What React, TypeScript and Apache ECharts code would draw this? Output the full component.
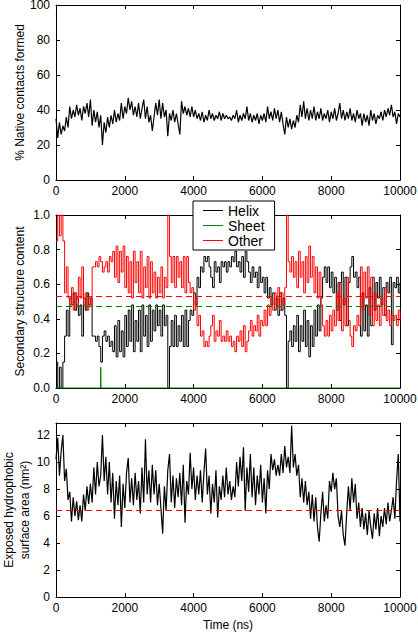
import React, { useEffect, useRef } from "react";
import * as echarts from "echarts";

const timeMax = 10000;
const xTickInterval = 2000;

// % native contacts formed, sampled every 50 ns
const nativeContacts = [
  35, 24, 33, 26, 31, 28, 36, 30, 42, 35, 40, 36, 43, 37, 41, 34, 42, 38, 44, 36,
  46, 31, 40, 33, 39, 30, 37, 20, 33, 27, 36, 30, 37, 32, 40, 33, 38, 34, 44, 35,
  42, 38, 47, 40, 45, 37, 42, 36, 44, 35, 41, 46, 35, 42, 33, 37, 28, 36, 44, 37,
  46, 35, 44, 36, 40, 25, 38, 34, 40, 33, 38, 32, 26, 45, 38, 42, 37, 41, 36, 42,
  36, 40, 35, 38, 34, 39, 33, 37, 34, 40, 35, 38, 34, 37, 35, 39, 34, 38, 35, 37,
  35, 36, 34, 37, 35, 40, 33, 37, 34, 38, 35, 42, 34, 38, 33, 37, 34, 38, 32, 37,
  34, 38, 33, 42, 35, 39, 34, 41, 35, 40, 33, 39, 32, 26, 36, 30, 35, 29, 34, 30,
  37, 33, 43, 36, 45, 35, 41, 34, 40, 35, 42, 34, 39, 35, 41, 34, 38, 35, 40, 33,
  39, 35, 41, 34, 38, 44, 35, 40, 34, 39, 35, 41, 34, 38, 33, 40, 35, 38, 31, 38,
  33, 37, 31, 40, 34, 38, 32, 37, 35, 39, 34, 40, 36, 41, 37, 43, 36, 39, 32, 38,
  36,
];

// Secondary structure fractions, sampled every 50 ns
const helix = [
  0.15, 0.0, 0.12, 0.0, 0.15, 0.30, 0.45, 0.30, 0.52, 0.48, 0.55, 0.45, 0.52, 0.42, 0.48, 0.30, 0.52, 0.45, 0.55, 0.48,
  0.52, 0.30, 0.30, 0.27, 0.30, 0.24, 0.15, 0.30, 0.33, 0.27, 0.30, 0.24, 0.27, 0.21, 0.36, 0.18, 0.39, 0.21, 0.33, 0.18,
  0.42, 0.24, 0.45, 0.27, 0.48, 0.21, 0.39, 0.27, 0.45, 0.21, 0.48, 0.30, 0.42, 0.24, 0.48, 0.27, 0.45, 0.33, 0.48, 0.36,
  0.45, 0.30, 0.48, 0.36, 0.42, 0.0, 0.24, 0.39, 0.24, 0.42, 0.24, 0.36, 0.27, 0.42, 0.24, 0.45, 0.24, 0.39, 0.45, 0.42,
  0.55, 0.48, 0.64, 0.58, 0.70, 0.67, 0.76, 0.73, 0.76, 0.70, 0.64, 0.58, 0.73, 0.67, 0.70, 0.61, 0.73, 0.70, 0.73, 0.67,
  0.73, 0.70, 0.76, 0.73, 0.79, 0.70, 0.73, 0.67, 0.76, 0.64, 0.79, 0.73, 0.67, 0.61, 0.70, 0.64, 0.67, 0.58, 0.70, 0.61,
  0.64, 0.55, 0.64, 0.52, 0.58, 0.48, 0.55, 0.45, 0.52, 0.42, 0.55, 0.45, 0.52, 0.42, 0.0, 0.27, 0.33, 0.24, 0.36, 0.27,
  0.42, 0.21, 0.36, 0.27, 0.45, 0.24, 0.39, 0.18, 0.36, 0.24, 0.45, 0.30, 0.48, 0.33, 0.52, 0.64, 0.70, 0.61, 0.70, 0.58,
  0.67, 0.55, 0.64, 0.45, 0.61, 0.39, 0.67, 0.48, 0.64, 0.36, 0.61, 0.70, 0.76, 0.64, 0.67, 0.58, 0.64, 0.30, 0.55, 0.33,
  0.48, 0.30, 0.58, 0.36, 0.64, 0.45, 0.61, 0.52, 0.64, 0.48, 0.58, 0.42, 0.61, 0.55, 0.64, 0.25, 0.61, 0.58, 0.64, 0.55,
  0.61,
];

const other = [
  0.85, 1.0, 0.88, 1.0, 0.85, 0.55, 0.70, 0.52, 0.48, 0.58, 0.45, 0.55, 0.48, 0.64, 0.52, 0.70, 0.48, 0.55, 0.45, 0.52,
  0.48, 0.70, 0.70, 0.73, 0.70, 0.76, 0.73, 0.67, 0.70, 0.73, 0.67, 0.76, 0.73, 0.79, 0.64, 0.82, 0.61, 0.79, 0.67, 0.82,
  0.58, 0.76, 0.55, 0.73, 0.52, 0.79, 0.61, 0.73, 0.55, 0.79, 0.52, 0.70, 0.58, 0.76, 0.52, 0.73, 0.55, 0.67, 0.52, 0.64,
  0.55, 0.70, 0.52, 0.64, 0.58, 1.0, 0.76, 0.61, 0.76, 0.58, 0.76, 0.64, 0.73, 0.58, 0.76, 0.55, 0.76, 0.61, 0.55, 0.58,
  0.45, 0.52, 0.36, 0.42, 0.30, 0.33, 0.24, 0.27, 0.24, 0.30, 0.36, 0.42, 0.27, 0.33, 0.30, 0.39, 0.27, 0.30, 0.27, 0.33,
  0.27, 0.30, 0.24, 0.27, 0.21, 0.30, 0.27, 0.33, 0.24, 0.36, 0.21, 0.27, 0.33, 0.39, 0.30, 0.36, 0.33, 0.42, 0.30, 0.39,
  0.36, 0.45, 0.36, 0.48, 0.42, 0.52, 0.45, 0.55, 0.48, 0.58, 0.45, 0.55, 0.48, 0.58, 1.0, 0.73, 0.67, 0.76, 0.64, 0.73,
  0.58, 0.79, 0.64, 0.73, 0.55, 0.76, 0.61, 0.82, 0.64, 0.76, 0.55, 0.70, 0.52, 0.67, 0.48, 0.36, 0.30, 0.39, 0.30, 0.42,
  0.33, 0.45, 0.36, 0.55, 0.39, 0.61, 0.33, 0.52, 0.36, 0.64, 0.39, 0.30, 0.24, 0.36, 0.33, 0.42, 0.36, 0.70, 0.45, 0.67,
  0.52, 0.70, 0.42, 0.64, 0.36, 0.55, 0.39, 0.48, 0.36, 0.52, 0.42, 0.58, 0.39, 0.45, 0.36, 0.42, 0.39, 0.42, 0.36, 0.45,
  0.39,
];

const sheetPoints: [number, number][] = [
  [0, 0], [1290, 0], [1300, 0.12], [1310, 0], [10000, 0],
];

// Exposed hydrophobic surface area (nm²), sampled every 50 ns
const hydrophobicSA = [
  10.2, 11.8, 9.0, 10.8, 12.0, 8.6, 9.5, 7.2, 7.8, 5.6, 7.4, 6.0, 7.1, 5.7, 6.8, 5.6, 7.6, 6.4, 8.2, 6.9,
  8.4, 7.0, 9.6, 7.6, 10.0, 8.2, 9.0, 12.0, 8.6, 10.4, 7.6, 10.0, 7.0, 9.2, 5.8, 8.6, 6.8, 9.0, 5.2, 8.4,
  6.6, 9.2, 10.3, 7.0, 8.8, 6.8, 9.2, 7.2, 8.6, 6.2, 9.6, 7.0, 11.7, 7.6, 9.4, 7.0, 9.8, 7.6, 9.4, 6.8,
  8.4, 6.6, 4.7, 8.2, 6.4, 9.4, 10.6, 7.0, 9.0, 6.6, 8.8, 7.4, 9.2, 6.8, 9.8, 5.5, 8.6, 7.6, 10.7, 8.0,
  9.6, 7.2, 9.0, 7.6, 9.4, 7.0, 9.2, 11.0, 7.6, 9.0, 6.2, 8.4, 7.0, 9.4, 5.9, 8.2, 7.2, 9.0, 7.4, 9.6,
  7.6, 8.6, 7.2, 8.2, 7.4, 10.0, 8.2, 10.4, 8.6, 11.1, 6.4, 9.6, 7.8, 10.6, 7.4, 9.6, 6.8, 9.0, 7.6, 9.8,
  7.0, 8.8, 6.2, 9.4, 8.0, 10.6, 9.4, 10.2, 9.0, 9.8, 9.0, 10.6, 9.2, 11.2, 9.6, 10.4, 9.2, 12.7, 9.6, 10.6,
  9.0, 9.8, 7.4, 8.8, 7.0, 8.6, 6.8, 7.8, 5.8, 7.6, 5.6, 7.4, 5.2, 4.1, 6.2, 7.8, 5.6, 6.8, 5.8, 8.6,
  7.8, 9.2, 8.0, 8.8, 6.0, 5.2, 6.4, 4.6, 3.8, 6.2, 8.2, 6.4, 8.8, 7.0, 8.4, 5.8, 7.0, 5.2, 6.6, 5.0,
  6.2, 4.6, 6.4, 5.2, 4.3, 6.2, 5.0, 6.6, 4.5, 6.0, 5.2, 6.6, 5.4, 7.0, 5.6, 6.4, 7.4, 5.8, 8.6, 10.6,
  5.6,
];

const otherMean = 0.53;
const helixMeanGreen = 0.47;
const saReference = 6.4;

const FONT = "Liberation Sans, Arial, sans-serif";

function toPairs(values: number[]): [number, number][] {
  const step = timeMax / (values.length - 1);
  return values.map((v, i) => [i * step, v]);
}

const grids = [
  { left: 56, top: 5, width: 344, height: 175 },
  { left: 56, top: 215, width: 344, height: 173 },
  { left: 56, top: 423, width: 344, height: 174 },
];

function baseAxis(extra: any) {
  return {
    type: "value",
    axisLine: { show: true, onZero: false, lineStyle: { color: "#000", width: 1 } },
    axisTick: { show: true, inside: true, length: 4, lineStyle: { color: "#000", width: 1 } },
    splitLine: { show: false },
    ...extra,
  };
}

export default function App() {
  const ref = useRef<HTMLDivElement>(null);
  useEffect(() => {
    if (!ref.current) return;
    const chart = echarts.init(ref.current, undefined, { renderer: "svg" });
    const labelStyle = { color: "#000", fontSize: 12, fontFamily: FONT };

    const xAxes: any[] = [];
    const yAxes: any[] = [];
    const yConf = [
      { min: 0, max: 100, interval: 20, name: "% Native contacts formed", nameGap: 28, fmt: (v: number) => String(v) },
      { min: 0, max: 1, interval: 0.2, name: "Secondary structure content", nameGap: 28, fmt: (v: number) => v.toFixed(1) },
      { min: 0, max: 12.9, interval: 2, name: "Exposed hydrophobic\nsurface area (nm²)", nameGap: 23, fmt: (v: number) => String(v) },
    ];
    grids.forEach((_, i) => {
      xAxes.push(
        baseAxis({
          gridIndex: i,
          position: "bottom",
          min: 0,
          max: timeMax,
          interval: xTickInterval,
          axisLabel: { ...labelStyle, margin: 5, formatter: (v: number) => String(v) },
          name: i === 2 ? "Time (ns)" : "",
          nameLocation: "middle",
          nameGap: 22,
          nameMoveOverlap: false,
          nameTextStyle: { ...labelStyle },
        })
      );
      xAxes.push(
        baseAxis({
          gridIndex: i,
          position: "top",
          min: 0,
          max: timeMax,
          interval: xTickInterval,
          axisLabel: { show: false },
        })
      );
      const c = yConf[i];
      yAxes.push(
        baseAxis({
          gridIndex: i,
          position: "left",
          min: c.min,
          max: c.max,
          interval: c.interval,
          axisLabel: { ...labelStyle, margin: 6, formatter: c.fmt, showMaxLabel: i === 2 ? false : true },
          name: c.name,
          nameLocation: "middle",
          nameRotate: 90,
          nameGap: c.nameGap,
          nameMoveOverlap: false,
          nameTextStyle: { ...labelStyle, lineHeight: 16 },
        })
      );
      yAxes.push(
        baseAxis({
          gridIndex: i,
          position: "right",
          min: c.min,
          max: c.max,
          interval: c.interval,
          axisLabel: { show: false },
        })
      );
    });

    const dash = (y: number, color: string) => ({
      silent: true,
      symbol: "none",
      label: { show: false },
      lineStyle: { color, type: [6, 4], width: 1 },
      data: [{ yAxis: y }],
    });

    chart.setOption({
      animation: false,
      textStyle: { fontFamily: FONT },
      grid: grids.map((g) => ({ ...g, show: false, containLabel: false, outerBoundsMode: "none" })),
      xAxis: xAxes,
      yAxis: yAxes,
      legend: {
        left: 193,
        top: 201,
        orient: "vertical",
        backgroundColor: "#fff",
        borderColor: "#000",
        borderWidth: 1,
        borderRadius: 0,
        padding: [2, 10, 2, 10],
        itemGap: 0,
        itemWidth: 20,
        itemHeight: 1,
        icon: "rect",
        textStyle: { color: "#000", fontSize: 14, fontFamily: FONT, lineHeight: 15 },
        data: ["Helix", "Sheet", "Other"],
        z: 10,
      },
      series: [
        {
          type: "line",
          name: "Native",
          xAxisIndex: 0,
          yAxisIndex: 0,
          data: toPairs(nativeContacts),
          showSymbol: false,
          lineStyle: { color: "#000", width: 1.2 },
          itemStyle: { color: "#000" },
        },
        {
          type: "line",
          name: "Helix",
          xAxisIndex: 2,
          yAxisIndex: 2,
          step: "end",
          data: toPairs(helix),
          showSymbol: false,
          lineStyle: { color: "#000", width: 1 },
          itemStyle: { color: "#000" },
        },
        {
          type: "line",
          name: "Sheet",
          xAxisIndex: 2,
          yAxisIndex: 2,
          data: sheetPoints,
          showSymbol: false,
          lineStyle: { color: "#008000", width: 1 },
          itemStyle: { color: "#008000" },
        },
        {
          type: "line",
          name: "Other",
          xAxisIndex: 2,
          yAxisIndex: 2,
          step: "end",
          data: toPairs(other),
          showSymbol: false,
          lineStyle: { color: "#ff0000", width: 1 },
          itemStyle: { color: "#ff0000" },
          markLine: dash(otherMean, "#ff0000"),
        },
        {
          type: "line",
          name: "HelixMean",
          xAxisIndex: 2,
          yAxisIndex: 2,
          data: [],
          markLine: dash(helixMeanGreen, "#008000"),
        },
        {
          type: "line",
          name: "SA",
          xAxisIndex: 4,
          yAxisIndex: 4,
          data: toPairs(hydrophobicSA),
          showSymbol: false,
          lineStyle: { color: "#000", width: 1.2 },
          itemStyle: { color: "#000" },
          markLine: dash(saReference, "#ff0000"),
        },
      ],
    });
    return () => chart.dispose();
  }, []);
  return (
    <div
      ref={ref}
      style={{ position: "fixed", left: 0, top: 0, width: 418, height: 634, background: "#fff" }}
    />
  );
}
